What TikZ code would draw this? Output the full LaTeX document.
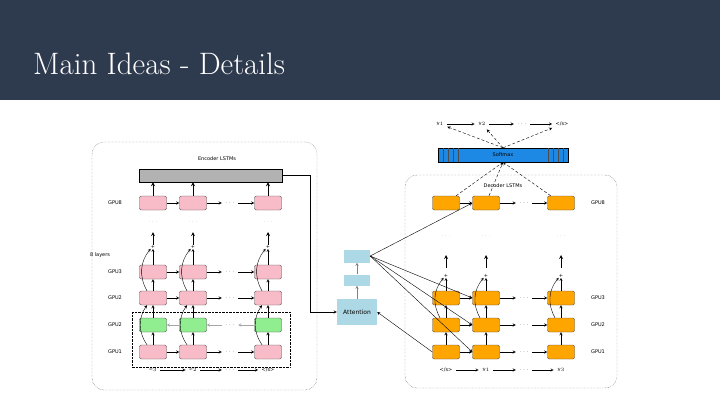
\documentclass[tikz,border=0pt]{standalone}
\usepackage{fontspec}
\setsansfont{DejaVu Sans}
\usetikzlibrary{arrows,positioning}
\definecolor{band}{HTML}{2E3A4E}
\definecolor{pinkc}{HTML}{F8BBC8}
\definecolor{greenc}{HTML}{90EE90}
\definecolor{orangec}{HTML}{FFA500}
\definecolor{attc}{HTML}{ADD8E6}
\definecolor{softc}{HTML}{1E88E5}

\begin{document}
\begin{tikzpicture}[x=1pt,y=-1pt,>=stealth,
    lbl/.style={font=\fontsize{5}{6}\selectfont\sffamily},
    cell/.style={draw=black!70,rounded corners=2pt,minimum width=27pt,minimum height=14pt,inner sep=0pt},
    pinkbox/.style={cell,fill=pinkc},
    greenbox/.style={cell,fill=greenc},
    orangebox/.style={cell,fill=orangec},
    attbox/.style={fill=attc,inner sep=0pt},
    panel/.style={draw=black!70,densely dotted,rounded corners=12pt},
    link/.style={->,thin},
    flat/.style={->,thin,black!35},
    darrow/.style={->,thin,densely dashed}]
    \useasboundingbox (0,0) rectangle (720,405);
    \fill[band] (0,0) rectangle (720,100);
    \node[anchor=base west,inner sep=0pt,text=white,font=\fontsize{31}{36}\selectfont] (title) at (33,74) {Main Ideas - Details};

    % encoder
    \draw[panel] (92,142) rectangle (317,390);
    \draw[densely dotted] (132,312) rectangle (290,367);
    \node[draw,fill=black!30,minimum width=143pt,minimum height=13pt,inner sep=0pt] (ebar) at (210.5,175.5) {};
    \node[lbl] (etitle) at (217,159) {Encoder LSTMs};
    \foreach \r/\y/\c in {8/203/pinkbox,3/272/pinkbox,2/298/pinkbox,g/325/greenbox,1/352/pinkbox}{
      \foreach \k/\x in {1/153,2/193,3/268}
        \node[\c] (e\r\k) at (\x,\y) {};
      \node[lbl] (edots\r) at (230,\y) {$\cdots$};
    }
    \foreach \r in {8,3,2,1}{
      \draw[link] (e\r1) -- (e\r2);
      \draw[link] (e\r2) -- (edots\r);
      \draw[link] (edots\r) -- (e\r3);
    }
    \draw[flat] (eg3) -- (edotsg);
    \draw[flat] (edotsg) -- (eg2);
    \draw[flat] (eg2) -- (eg1);
    \foreach \k/\x in {1/153,2/193,3/268}{
      \node[lbl,inner sep=0pt] (ep\k) at (\x,247) {+};
      \node[lbl,text=black!40] (ev\k) at (\x,222) {$\cdots$};
      \coordinate (eu\k) at (\x,232);
      \draw[link] (e1\k) -- (eg\k);
      \draw[link] (eg\k) -- (e2\k);
      \draw[link] (e2\k) -- (e3\k);
      \draw[link] (e3\k) -- (ep\k);
      \draw[link] ([xshift=-6pt]e1\k.north) to[bend left=35] ([xshift=-6pt]e2\k.south);
      \draw[link] ([xshift=-6pt]e2\k.north) to[bend left=35] (ep\k.south west);
      \draw[->,thick] (ep\k) -- (eu\k);
      \draw[->,thick] (e8\k.north) -- (e8\k.north |- ebar.south);
    }
    \node[lbl] (l8) at (115,203) {GPU8};
    \node[lbl] (l3) at (115,272) {GPU3};
    \node[lbl] (l2) at (115,298) {GPU2};
    \node[lbl] (lg) at (115,325) {GPU2};
    \node[lbl] (l1) at (115,352) {GPU1};
    \node[lbl] (layers) at (100,255) {8 layers};
    \node[lbl] (x3) at (153,370) {$x_3$};
    \node[lbl] (x2) at (193,370) {$x_2$};
    \node[lbl] (xd) at (230,370) {$\cdots$};
    \node[lbl] (xe) at (268,370) {</s>};
    \draw[link] (x3) -- (x2);
    \draw[link] (x2) -- (xd);
    \draw[link] (xd) -- (xe);

    % attention
    \node[attbox,minimum width=40pt,minimum height=26pt,font=\fontsize{6}{7}\selectfont\sffamily] (att) at (357,312) {Attention};
    \node[attbox,minimum width=26pt,minimum height=11pt] (am) at (357,280) {};
    \node[attbox,minimum width=26pt,minimum height=13pt] (at) at (357,256) {};
    \draw[->,black!50] (att) -- (am);
    \draw[->,black!50] (am) -- (at);
    \draw[link] (ebar.east) -| (310,312) -- (att.west);

    % decoder
    \draw[panel] (405,175) rectangle (617,388);
    \node[draw,fill=softc,minimum width=130pt,minimum height=14pt,inner sep=0pt,font=\fontsize{5}{6}\selectfont\sffamily] (soft) at (503,155) {Softmax};
    \foreach \s in {443,448,453,458,548,553,558,563}
      \draw[black!70] (\s,148) -- (\s,162);
    \node[lbl] (dtitle) at (503,186) {Decoder LSTMs};
    \foreach \r/\y in {8/203,3/298,2/325,1/352}{
      \foreach \k/\x in {1/446,2/486,3/561}
        \node[orangebox] (d\r\k) at (\x,\y) {};
      \node[lbl] (ddots\r) at (524,\y) {$\cdots$};
      \draw[link] (d\r1) -- (d\r2);
      \draw[link] (d\r2) -- (ddots\r);
      \draw[link] (ddots\r) -- (d\r3);
    }
    \foreach \k/\x in {1/446,2/486,3/561}{
      \node[lbl,inner sep=0pt] (dp\k) at (\x,276) {+};
      \node[lbl,text=black!40] (dv\k) at (\x,236) {$\cdots$};
      \coordinate (du\k) at (\x,255);
      \coordinate (dw\k) at (\x,268);
      \draw[link] (d1\k) -- (d2\k);
      \draw[link] (d2\k) -- (d3\k);
      \draw[link] (d3\k) -- (dp\k);
      \draw[link] ([xshift=-6pt]d2\k.north) to[bend left=35] (dp\k.south west);
      \draw[->,thick] (dw\k) -- (du\k);
      \draw[darrow] (d8\k) -- (soft.south);
    }
    \node[lbl] (m8) at (598,203) {GPU8};
    \node[lbl] (m3) at (598,298) {GPU3};
    \node[lbl] (m2) at (598,325) {GPU2};
    \node[lbl] (m1) at (598,352) {GPU1};
    \node[lbl] (y0) at (446,370) {</s>};
    \node[lbl] (y1) at (486,370) {$y_1$};
    \node[lbl] (yd) at (524,370) {$\cdots$};
    \node[lbl] (y3) at (561,370) {$y_3$};
    \draw[link] (y0) -- (y1);
    \draw[link] (y1) -- (yd);
    \draw[link] (yd) -- (y3);
    \node[lbl] (o1) at (440,124) {$y_1$};
    \node[lbl] (o2) at (482,124) {$y_2$};
    \node[lbl] (od) at (522,124) {$\cdots$};
    \node[lbl] (oe) at (562,124) {</s>};
    \draw[link] (o1) -- (o2);
    \draw[link] (o2) -- (od);
    \draw[link] (od) -- (oe);
    \foreach \o in {o1,o2,oe}
      \draw[darrow] (soft.north) -- (\o);
    \foreach \t in {d82,d32,d22,d12}
      \draw[link] (at.east) -- (\t.west);
    \draw[link] (d11.west) -- (att.east);
\end{tikzpicture}
\end{document}
